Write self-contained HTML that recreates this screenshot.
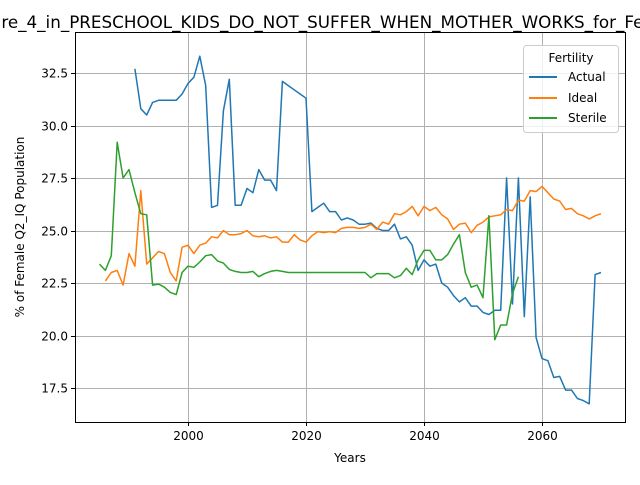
<!DOCTYPE html>
<html><head><meta charset="utf-8"><style>
body{margin:0;background:#fff;}
svg text{font-family:"DejaVu Sans","Liberation Sans",sans-serif;}
</style></head><body>
<svg id="chart" width="640" height="480" xmlns="http://www.w3.org/2000/svg">
<rect width="640" height="480" fill="#fff"/>
<g id="grid"></g>
<g id="lines"></g>
<rect x="75.5" y="32.5" width="550" height="390" fill="none" stroke="#000" stroke-width="1"/>
<g id="ticks"></g>
<text x="-33" y="28" text-anchor="start" font-size="16.75">Figure_4_in_PRESCHOOL_KIDS_DO_NOT_SUFFER_WHEN_MOTHER_WORKS_for_Fertility</text>
<text x="350" y="462" text-anchor="middle" font-size="12">Years</text>
<text x="0" y="0" transform="translate(24,227) rotate(-90)" text-anchor="middle" font-size="12">% of Female Q2_IQ Population</text>
<g>
<rect x="523.5" y="45.5" width="95" height="87" rx="3" fill="#fff" fill-opacity="0.8" stroke="#ccc"/>
<text x="571" y="62" text-anchor="middle" font-size="12">Fertility</text>
<line x1="529" y1="77" x2="557" y2="77" stroke="#1f77b4" stroke-width="2"/>
<text x="568" y="81" font-size="12">Actual</text>
<line x1="529" y1="98" x2="557" y2="98" stroke="#ff7f0e" stroke-width="2"/>
<text x="568" y="102" font-size="12">Ideal</text>
<line x1="529" y1="118" x2="557" y2="118" stroke="#2ca02c" stroke-width="2"/>
<text x="568" y="122" font-size="12">Sterile</text>
</g>
</svg>
<script>
const xTicks=[2000,2020,2040,2060];
const yTicks=[17.5,20.0,22.5,25.0,27.5,30.0,32.5];
const actualStart=1991;
const actual=[32.7,30.8,30.5,31.1,31.2,31.2,31.2,31.2,31.5,32.0,32.3,33.3,31.9,26.1,26.2,30.7,32.2,26.2,26.2,27.0,26.8,27.9,27.4,27.4,26.9,32.1,31.9,31.7,31.5,31.3,25.9,26.1,26.3,25.9,25.9,25.5,25.6,25.5,25.3,25.3,25.35,25.1,25.0,25.0,25.3,24.6,24.7,24.3,23.1,23.6,23.3,23.4,22.5,22.3,21.9,21.6,21.8,21.4,21.4,21.1,21.0,21.2,21.2,27.5,21.5,27.5,20.9,26.6,19.9,18.9,18.8,18.0,18.05,17.4,17.4,17.0,16.9,16.75,22.9,23.0];
const idealStart=1986;
const ideal=[22.6,23.0,23.1,22.4,23.9,23.3,26.9,23.4,23.7,24.0,23.9,23.0,22.6,24.2,24.3,23.9,24.3,24.4,24.7,24.65,25.0,24.8,24.8,24.85,25.0,24.75,24.7,24.75,24.65,24.7,24.45,24.45,24.8,24.55,24.45,24.75,24.95,24.9,24.95,24.9,25.1,25.15,25.15,25.1,25.15,25.3,25.05,25.4,25.3,25.8,25.75,25.9,26.15,25.7,26.15,25.95,26.1,25.75,25.55,25.05,25.3,25.35,24.9,25.25,25.4,25.65,25.7,25.75,26.0,25.95,26.45,26.4,26.9,26.85,27.1,26.8,26.5,26.4,26.0,26.05,25.8,25.7,25.55,25.7,25.8];
const sterileStart=1985;
const sterile=[23.4,23.1,23.8,29.2,27.5,27.9,26.8,25.8,25.75,22.4,22.45,22.3,22.05,21.95,23.0,23.3,23.25,23.5,23.8,23.85,23.55,23.45,23.15,23.05,23.0,23.0,23.05,22.8,22.95,23.05,23.1,23.05,23.0,23.0,23.0,23.0,23.0,23.0,23.0,23.0,23.0,23.0,23.0,23.0,23.0,23.0,22.75,22.95,22.95,22.95,22.75,22.85,23.2,22.9,23.6,24.05,24.05,23.6,23.6,23.85,24.35,24.8,23.0,22.3,22.4,21.8,25.7,19.8,20.5,20.5,22.0,22.8];
const X=y=>188+(y-2000)*5.9;
const Y=v=>388-(v-17.5)*21;
const NS="http://www.w3.org/2000/svg";
const grid=document.getElementById('grid'),ticks=document.getElementById('ticks'),lines=document.getElementById('lines');
function mk(tag,attrs,parent){const e=document.createElementNS(NS,tag);for(const k in attrs)e.setAttribute(k,attrs[k]);parent.appendChild(e);return e;}
xTicks.forEach(t=>{const x=Math.round(X(t))+0.5;
const g=mk('line',{x1:x,x2:x,y1:32,y2:422,stroke:'#b0b0b0','stroke-width':1},grid);


mk('line',{x1:x,x2:x,y1:422,y2:426,stroke:'#000'},ticks);
const tx=mk('text',{x:x,y:440,'text-anchor':'middle','font-size':12},ticks);tx.textContent=t;

});
yTicks.forEach(t=>{const y=Math.round(Y(t))+0.5;
const g=mk('line',{x1:75,x2:625,y1:y,y2:y,stroke:'#b0b0b0','stroke-width':1},grid);


mk('line',{x1:71,x2:75,y1:y,y2:y,stroke:'#000'},ticks);
const tx=mk('text',{x:68,y:y+4,'text-anchor':'end','font-size':12},ticks);tx.textContent=t.toFixed(1);

});
function series(arr,start,color,name){const pts=arr.map((v,i)=>X(start+i).toFixed(1)+','+Y(v).toFixed(1)).join(' ');
const p=mk('polyline',{points:pts,fill:'none',stroke:color,'stroke-width':1.5,'stroke-linejoin':'round'},lines);

}
series(actual,actualStart,'#1f77b4','actual-line');
series(ideal,idealStart,'#ff7f0e','ideal-line');
series(sterile,sterileStart,'#2ca02c','sterile-line');
</script>
</body></html>
